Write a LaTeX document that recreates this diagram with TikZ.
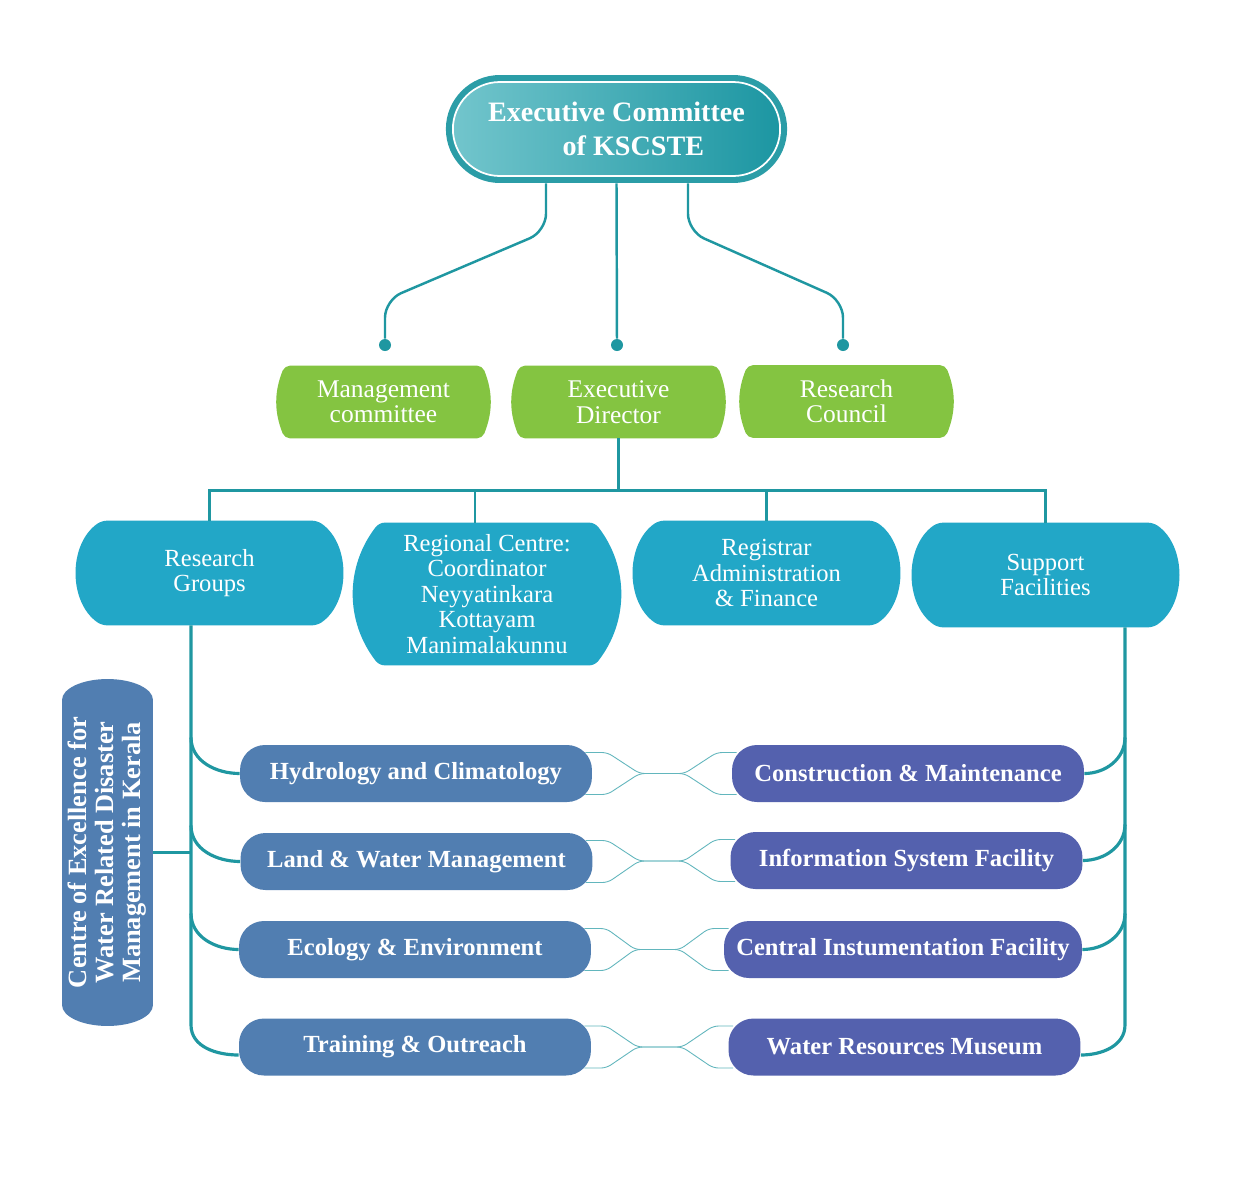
\documentclass[tikz,border=0pt]{standalone}
\usepackage{fontspec}
\setmainfont{Liberation Serif}
\usepackage{xcolor}
\usetikzlibrary{shapes.misc,backgrounds,calc}

\definecolor{linec}{HTML}{1F97A1}
\definecolor{ringc}{HTML}{2B9DA7}
\definecolor{topl}{HTML}{72C5CC}
\definecolor{topr}{HTML}{1C96A2}
\definecolor{greenc}{HTML}{84C441}
\definecolor{cyanc}{HTML}{22A7C7}
\definecolor{bluec}{HTML}{517EB1}
\definecolor{purplec}{HTML}{5461AE}

% box with bulging left and right sides
\newcommand{\barrel}[3]{\fill[#1,rounded corners=3pt] (#2.north west) to[bend right=#3] (#2.south west)
  -- (#2.south east) to[bend right=#3] (#2.north east) -- cycle;}

\begin{document}
\begin{tikzpicture}[x=0.02cm,y=-0.02cm,
    conn/.style={draw=linec,line width=1.4pt},
    trunk/.style={draw=linec,line width=1.8pt},
    tie/.style={draw=linec!70,line width=0.5pt,rounded corners=3pt},
    dot/.style={circle,fill=linec,inner sep=0pt,minimum size=0.24cm},
    mgmtbox/.style={text=white,align=center,inner sep=0pt,minimum width=3.94cm,
          minimum height=1.44cm,font=\fontsize{14.5}{14.5}\selectfont},
    unitbox/.style={text=white,align=center,inner sep=0pt,minimum width=4.3cm,
          minimum height=2.08cm,font=\fontsize{14}{14.5}\selectfont},
    groupbox/.style={rounded corners=0.5cm,fill=bluec,text=white,minimum width=7.04cm,
          minimum height=1.14cm,font=\bfseries\fontsize{14}{16}\selectfont},
    facbox/.style={groupbox,fill=purplec}]
    \useasboundingbox (0,0) rectangle (1241,1194);
    \begin{scope}[on background layer]
        \fill[white] (0,0) rectangle (1241,1194);
    \end{scope}

    % Executive committee
    \node (ecring) [rounded rectangle,fill=ringc,minimum width=7.06cm,
          minimum height=2.16cm] at (616.5,129) {};
    \node (ec) [rounded rectangle,left color=topl,right color=topr,draw=white,
          line width=1pt,minimum width=6.78cm,minimum height=1.88cm,text=white,
          align=center,font=\bfseries\fontsize{16}{19.5}\selectfont] at (616.5,129)
          {Executive Committee\\\hspace*{1.2em}of KSCSTE};

    \node (d1) [dot] at (385,345) {};
    \node (d2) [dot] at (617,345) {};
    \node (d3) [dot] at (843,345) {};
    \draw[conn,rounded corners=10pt] ([xshift=-1.41cm]ecring.south) -- ++(0,48)
          -- ([yshift=0.9cm]d1.center) -- (d1);
    \draw[conn] (ecring.south) -- (d2);
    \draw[conn,rounded corners=10pt] ([xshift=1.43cm]ecring.south) -- ++(0,48)
          -- ([yshift=0.9cm]d3.center) -- (d3);

    % Committees
    \node (mc) [mgmtbox] at (383.5,402) {Management\\committee};
    \node (ed) [mgmtbox] at (618.5,402) {Executive\\Director};
    \node (rc) [mgmtbox] at (846.5,401.5) {Research\\Council};

    % Units
    \node (rg) [unitbox] at (209.5,573) {Research\\Groups};
    \node (rcn) [unitbox,minimum height=2.84cm] at (487,594)
          {Regional Centre:\\Coordinator\\Neyyatinkara\\Kottayam\\Manimalakunnu};
    \node (reg) [unitbox] at (766.5,573) {Registrar\\Administration\\\& Finance};
    \node (sf) [unitbox] at (1045.5,575) {Support\\Facilities};

    \begin{scope}[on background layer]
        \barrel{greenc}{mc}{22}
        \barrel{greenc}{ed}{22}
        \barrel{greenc}{rc}{22}
        \barrel{cyanc}{rg}{55}
        \barrel{cyanc}{rcn}{38}
        \barrel{cyanc}{reg}{55}
        \barrel{cyanc}{sf}{55}
    \end{scope}

    \draw[conn] (ed.south) -- ++(0,52) coordinate (bus);
    \draw[conn] (rg.north) -- (rg.north |- bus) -- (sf.north |- bus) -- (sf.north);
    \draw[conn] ([xshift=-0.24cm]rcn.north) -- ([xshift=-0.24cm]rcn.north |- bus);
    \draw[conn] (reg.north) -- (reg.north |- bus);

    % Research groups and support facilities
    \node (h1) [groupbox] at (416,773.5) {Hydrology and Climatology};
    \node (h2) [groupbox] at (416.5,861.5) {Land \& Water Management};
    \node (h3) [groupbox] at (415,949.5) {Ecology \& Environment};
    \node (h4) [groupbox] at (415,1047) {Training \& Outreach};
    \node (s1) [facbox] at (908,773.5) {Construction \& Maintenance};
    \node (s2) [facbox] at (906.5,860.5) {Information System Facility};
    \node (s3) [facbox,minimum width=7.16cm] at (903,949.5) {Central Instumentation Facility};
    \node (s4) [facbox] at (904.5,1047) {Water Resources Museum};

    % Centre of excellence
    \node (cx) [rotate=90,text=white,align=center,inner sep=0pt,minimum width=6.9cm,
          minimum height=1.82cm,font=\bfseries\fontsize{15}{15.4}\selectfont] at (107.5,852.5)
          {Centre of Excellence for\\Water Related Disaster\\Management in Kerala};
    \begin{scope}[on background layer]
        \fill[bluec] ([xshift=-0.91cm,yshift=3.05cm]cx.center)
              arc[start angle=180,end angle=0,x radius=0.91cm,y radius=0.42cm]
              -- ([xshift=0.91cm,yshift=-3.05cm]cx.center)
              arc[start angle=0,end angle=-180,x radius=0.91cm,y radius=0.42cm] -- cycle;
    \end{scope}

    % Trunks
    \coordinate (lt) at ([xshift=-0.37cm]rg.south);
    \coordinate (rt) at ([xshift=1.59cm]sf.south);
    \draw[trunk] (lt) -- ([yshift=0.44cm]h4.west -| lt) to[out=-90,in=180] ([yshift=-0.16cm]h4.west);
    \draw[trunk] (rt) -- ([yshift=0.44cm]s4.east -| rt) to[out=-90,in=0] ([yshift=-0.16cm]s4.east);
    \foreach \i in {1,2,3} {
        \draw[trunk] ([yshift=0.72cm]h\i.west -| lt) to[out=-90,in=180] (h\i.west);
        \draw[trunk] ([yshift=0.72cm]s\i.east -| rt) to[out=-90,in=0] (s\i.east);
    }
    \draw[conn] ([xshift=0.91cm]cx.center) -- (cx.center -| lt);

    % Links between rows
    \foreach \i in {1,...,4} {
        \coordinate (m\i) at ($(h\i.east)!0.5!(s\i.west)$);
        \foreach \s in {1,-1}
            \draw[tie] ([xshift=-0.14cm,yshift=\s*0.42cm]h\i.east) -- ++(22,0)
                -- ([xshift=-0.45cm]m\i) -- ([xshift=0.45cm]m\i)
                -- ([xshift=-0.3cm,yshift=\s*0.42cm]s\i.west)
                -- ([xshift=0.1cm,yshift=\s*0.42cm]s\i.west);
    }
\end{tikzpicture}
\end{document}
